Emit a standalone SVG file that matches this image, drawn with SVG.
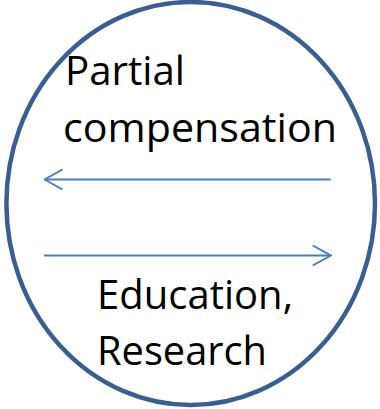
<svg xmlns="http://www.w3.org/2000/svg" width="380" height="409" viewBox="0 0 380 409">
<style>
.lbl{font-family:"Open Sans","Noto Sans","Liberation Sans",sans-serif;font-size:41px;fill:#000}
.arr{stroke:#4A7EBB;stroke-width:2;fill:none}
</style>
<defs>
<marker id="ah" viewBox="0 0 20 22" refX="19" refY="11" markerWidth="20" markerHeight="22" markerUnits="userSpaceOnUse" orient="auto">
<path d="M1,1 L19,11 L1,21" fill="none" stroke="#4A7EBB" stroke-width="2"/>
</marker>
</defs>
<rect width="380" height="409" fill="#fff"/>
<g id="node-circle">
<ellipse cx="190.7" cy="203.5" rx="184.3" ry="201.5" fill="#fff" stroke="#3A5F8F" stroke-width="4.5"/>
<text class="lbl" x="65" y="84.5" textLength="120" lengthAdjust="spacingAndGlyphs">Partial</text>
<text class="lbl" x="63" y="141.5" textLength="274" lengthAdjust="spacingAndGlyphs">compensation</text>
<text class="lbl" x="97" y="309.3" textLength="196" lengthAdjust="spacingAndGlyphs">Education,</text>
<text class="lbl" x="97" y="365" textLength="170" lengthAdjust="spacingAndGlyphs">Research</text>
</g>
<g id="connectors">
<line class="arr" x1="330.7" y1="179.5" x2="44.5" y2="179.5" marker-end="url(#ah)"/>
<line class="arr" x1="44" y1="255.5" x2="330.7" y2="255.5" marker-end="url(#ah)"/>
</g>
</svg>
